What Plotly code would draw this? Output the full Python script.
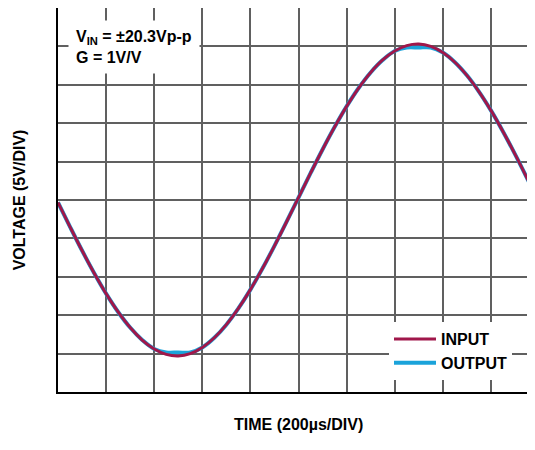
import plotly.graph_objects as go

# Time samples (microseconds) and voltages
time_us = [0, 50, 100, 150, 200, 250, 300, 350, 400, 450, 500, 550, 600, 650, 700, 750,
           800, 850, 900, 950, 1000, 1050, 1100, 1150, 1200, 1250, 1300, 1350, 1400, 1450,
           1500, 1550, 1600, 1650, 1700, 1750, 1800, 1850, 1900, 1950, 2000]
input_v = [-0.32, -3.49, -6.58, -9.50, -12.19, -14.58, -16.61, -18.23, -19.40, -20.10,
           -20.30, -20.00, -19.20, -17.94, -16.23, -14.12, -11.67, -8.93, -5.97, -2.86,
           0.32, 3.49, 6.58, 9.50, 12.19, 14.58, 16.61, 18.23, 19.40, 20.10,
           20.30, 20.00, 19.20, 17.94, 16.23, 14.12, 11.67, 8.93, 5.97, 2.86, -0.32]
output_v = [-0.32, -3.49, -6.58, -9.50, -12.19, -14.58, -16.61, -18.23, -19.40, -19.85,
            -19.85, -19.85, -19.20, -17.94, -16.23, -14.12, -11.67, -8.93, -5.97, -2.86,
            0.32, 3.49, 6.58, 9.50, 12.19, 14.58, 16.61, 18.23, 19.40, 19.85,
            19.85, 19.85, 19.20, 17.94, 16.23, 14.12, 11.67, 8.93, 5.97, 2.86, -0.32]

series_names = ["INPUT", "OUTPUT"]
x_title = "TIME (200µs/DIV)"
y_title = "VOLTAGE (5V/DIV)"
note_text = "<b>V<sub>IN</sub> = ±20.3Vp-p<br>G = 1V/V</b>"

RED = "#A0174A"
BLUE = "#1BA3DA"
GRID = "#606060"
FONT = "Liberation Sans, Arial, sans-serif"

PW = 469  # plot-area width in px (page body keeps an 8px margin)

fig = go.Figure()
fig.add_trace(go.Scatter(x=time_us, y=output_v, mode="lines", name=series_names[1],
                         line=dict(color=BLUE, width=4, shape="spline")))
fig.add_trace(go.Scatter(x=time_us, y=input_v, mode="lines", name=series_names[0],
                         line=dict(color=RED, width=3, shape="spline")))

fig.update_layout(
    width=519, height=434,
    margin=dict(l=50, r=0, t=0, b=50),
    paper_bgcolor="white", plot_bgcolor="white",
    font=dict(family=FONT, color="black", size=16),
    showlegend=True,
    legend=dict(x=(389 - 58) / PW, y=(392 - 322) / 384, xanchor="left", yanchor="top",
                bgcolor="white", borderwidth=0, traceorder="reversed",
                font=dict(size=16, family=FONT, weight="bold"),
                itemwidth=42, tracegroupgap=0),
    xaxis=dict(range=[0, 1950], dtick=200, tick0=0, showticklabels=False, ticks="",
               showgrid=True, gridcolor=GRID, gridwidth=1.5, zeroline=False,
               showline=True, linecolor="black", linewidth=2, mirror=True,
               automargin=False),
    yaxis=dict(range=[-25, 25], dtick=5, tick0=0, showticklabels=False, ticks="",
               showgrid=True, gridcolor=GRID, gridwidth=1.5, zeroline=False,
               showline=True, linecolor="black", linewidth=2, mirror=False,
               automargin=False,
               title=dict(text="<b>" + y_title + "</b>", standoff=26,
                          font=dict(size=16, family=FONT))),
    annotations=[
        dict(text=note_text, xref="paper", yref="paper",
             x=(68 - 58) / PW, y=(392 - 20) / 384,
             xanchor="left", yanchor="top", align="left", showarrow=False,
             bgcolor="white", borderpad=7,
             font=dict(size=16, family=FONT, color="black")),
        dict(text="<b>" + x_title + "</b>", xref="paper", yref="paper",
             x=(298 - 58) / PW, y=(392 - 424) / 384,
             xanchor="center", yanchor="middle", showarrow=False,
             font=dict(size=16, family=FONT, color="black")),
    ],
)

fig.write_html("out.html")
